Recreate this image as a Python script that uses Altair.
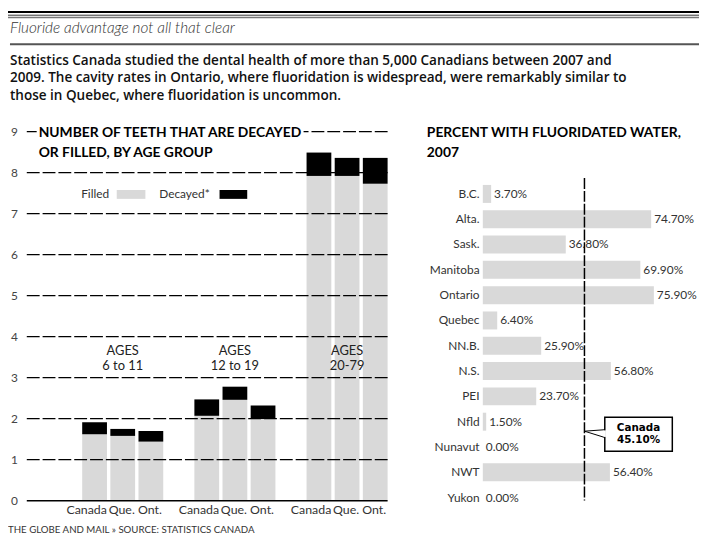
import altair as alt
import pandas as pd

FONT = "Lato"
W, H = 699, 532
GREY = "#d9d9d9"
INK = "#222222"

# ---------------- data ----------------
title_text = "Fluoride advantage not all that clear"
subtitle_lines = [
    "Statistics Canada studied the dental health of more than 5,000 Canadians between 2007 and",
    "2009. The cavity rates in Ontario, where fluoridation is widespread, were remarkably similar to",
    "those in Quebec, where fluoridation is uncommon.",
]
footer_text = "THE GLOBE AND MAIL \u00bb SOURCE: STATISTICS CANADA"

left_title_lines = ["NUMBER OF TEETH THAT ARE DECAYED", "OR FILLED, BY AGE GROUP"]
age_groups = ["6 to 11", "12 to 19", "20-79"]
age_word = "AGES"
regions = ["Canada", "Que.", "Ont."]
filled = [1.62, 1.58, 1.44, 2.07, 2.46, 1.99, 7.92, 7.92, 7.73]
decayed = [0.29, 0.17, 0.26, 0.40, 0.32, 0.33, 0.57, 0.44, 0.63]
y_ticks = [0, 1, 2, 3, 4, 5, 6, 7, 8, 9]
legend_labels = ["Filled", "Decayed*"]

right_title_lines = ["PERCENT WITH FLUORIDATED WATER,", "2007"]
provinces = ["B.C.", "Alta.", "Sask.", "Manitoba", "Ontario", "Quebec", "NN.B.",
             "N.S.", "PEI", "Nfld", "Nunavut", "NWT", "Yukon"]
fluoridated = [3.7, 74.7, 36.8, 69.9, 75.9, 6.4, 25.9, 56.8, 23.7, 1.5, 0.0, 56.4, 0.0]
canada_avg = [45.1]
callout_lines = ["Canada", "45.10%"]

# ---------------- tables ----------------
bars_df = pd.DataFrame({
    "group": [g for g in age_groups for _ in regions],
    "region": regions * len(age_groups),
    "filled": filled,
    "decayed": decayed,
})
ticks_df = pd.DataFrame({"v": y_ticks})
groups_df = pd.DataFrame({"group": age_groups})
prov_df = pd.DataFrame({"prov": provinces, "pct": fluoridated})
canada_df = pd.DataFrame({"c": canada_avg})
one = pd.DataFrame({"k": [0]})


def XG():
    return alt.Scale(type="band", domain=age_groups, range=[19, 384], paddingInner=0.2775,
                     paddingOuter=0.247, align=1)


def XO():
    return alt.Scale(type="band", domain=regions, paddingInner=0.12, paddingOuter=0)


def YL():
    return alt.Scale(domain=[0, 9], range=[495.3, 122])


def YR():
    return alt.Scale(type="band", domain=provinces, range=[172.2, 505], paddingInner=0.29,
                     paddingOuter=0.145)


def XR():
    return alt.Scale(domain=[0, 100], range=[480.3, 708.3])


def hrule(y, x1, x2, color, sw):
    return alt.Chart(one).mark_rule(color=color, strokeWidth=sw).encode(
        x=alt.value(x1), x2=alt.value(x2), y=alt.value(y))


def txt(s, x, y, **kw):
    d = pd.DataFrame({"t": [s]})
    opts = dict(font=FONT, baseline="middle", align="left")
    opts.update(kw)
    return alt.Chart(d).mark_text(**opts).encode(
        x=alt.value(x), y=alt.value(y), text="t:N")


layers = []

# ---------------- header ----------------
layers += [
    hrule(1, 0, W, "black", 2.2),
    hrule(4.2, 0, W, "#333333", 1),
    hrule(6.5, 0, W, "#777777", 1.4),
    txt(title_text, 2, 22, baseline="alphabetic", fontSize=15.5, fontStyle="italic",
        fontWeight=300, color="#333333"),
    hrule(33.5, 2, W, "#555555", 2),
]
for i, line in enumerate(subtitle_lines):
    layers.append(txt(line, 2, 50.5 + i * 17.5, font="Open Sans", fontSize=13.7,
                      fontWeight=600, color="#111111"))

# ---------------- left chart ----------------
xg = alt.X("group:N", scale=XG(), axis=None)
xo = alt.XOffset("region:N", scale=XO())

layers.append(alt.Chart(bars_df).mark_bar(color=GREY).encode(
    x=xg, xOffset=xo,
    y=alt.Y("filled:Q", scale=YL(), axis=None, stack=None), y2=alt.datum(0)))
layers.append(alt.Chart(bars_df).transform_calculate(
    total="datum.filled + datum.decayed").mark_bar(color="black").encode(
    x=xg, xOffset=xo,
    y=alt.Y("filled:Q", scale=YL(), axis=None, stack=None), y2="total:Q"))

layers.append(alt.Chart(ticks_df).transform_filter("datum.v > 0").mark_rule(
    color="black", strokeWidth=1.2, strokeDash=[13, 3]).encode(
    y=alt.Y("v:Q", scale=YL(), axis=None), x=alt.value(19), x2=alt.value(384)))
layers.append(alt.Chart(ticks_df).transform_filter("datum.v == 0").mark_rule(
    color="black", strokeWidth=1.6).encode(
    y=alt.Y("v:Q", scale=YL(), axis=None), x=alt.value(19), x2=alt.value(384)))
layers.append(alt.Chart(ticks_df).mark_text(
    align="right", baseline="middle", font=FONT, fontSize=12, color="#444444").encode(
    y=alt.Y("v:Q", scale=YL(), axis=None), x=alt.value(10), text="v:Q"))

# white patch behind the panel title
layers.append(alt.Chart(one).mark_rect(color="white").encode(
    x=alt.value(29), x2=alt.value(299), y=alt.value(116), y2=alt.value(130)))
for i, line in enumerate(left_title_lines):
    layers.append(txt(line, 31, 123.7 + i * 19.8, fontSize=14, fontWeight="bold", color="black"))

# x labels under bars
layers.append(alt.Chart(bars_df).transform_filter(f"datum.region == '{regions[0]}'").mark_text(
    font=FONT, fontSize=12.5, color="#333333", baseline="middle", dx=-8).encode(
    x=xg, xOffset=xo, y=alt.value(505), text="region:N"))
layers.append(alt.Chart(bars_df).transform_filter(f"datum.region != '{regions[0]}'").mark_text(
    font=FONT, fontSize=12.5, color="#333333", baseline="middle", dx=-1).encode(
    x=xg, xOffset=xo, y=alt.value(505), text="region:N"))

# age group labels
layers.append(alt.Chart(groups_df).mark_text(
    font=FONT, fontSize=13, color=INK, baseline="middle").encode(
    x=xg, y=alt.value(344), text=alt.value(age_word)))
layers.append(alt.Chart(groups_df).mark_text(
    font=FONT, fontSize=13, color=INK, baseline="middle").encode(
    x=xg, y=alt.value(359), text="group:N"))

# legend
layers += [
    txt(legend_labels[0], 74, 185, fontSize=12, color="#333333"),
    alt.Chart(one).mark_rect(color=GREY).encode(
        x=alt.value(110), x2=alt.value(139), y=alt.value(181), y2=alt.value(190)),
    txt(legend_labels[1], 153, 185, fontSize=12, color="#333333"),
    alt.Chart(one).mark_rect(color="black").encode(
        x=alt.value(214), x2=alt.value(242), y=alt.value(181), y2=alt.value(190)),
]

# ---------------- right chart ----------------
yr = alt.Y("prov:N", scale=YR(), axis=None)
layers.append(alt.Chart(prov_df).mark_bar(color=GREY).encode(
    y=yr, x=alt.X("pct:Q", scale=XR(), axis=None), x2=alt.datum(0)))
layers.append(alt.Chart(prov_df).transform_calculate(
    lbl="format(datum.pct, '.2f') + '%'").mark_text(
    align="left", baseline="middle", dx=3, font=FONT, fontSize=12, color="#333333").encode(
    y=yr, x=alt.X("pct:Q", scale=XR(), axis=None), text="lbl:N"))
layers.append(alt.Chart(prov_df).mark_text(
    align="right", baseline="middle", font=FONT, fontSize=12, color="#333333").encode(
    y=yr, x=alt.value(477), text="prov:N"))

layers.append(alt.Chart(canada_df).mark_rule(
    color="black", strokeWidth=1.5, strokeDash=[11, 2]).encode(
    x=alt.X("c:Q", scale=XR(), axis=None), y=alt.value(169), y2=alt.value(495)))

# callout
for yy in (423.5, 431.5):
    layers.append(alt.Chart(canada_df).mark_rule(color="black", strokeWidth=1).encode(
        x=alt.X("c:Q", scale=XR(), axis=None), x2=alt.value(604),
        y=alt.value(425), y2=alt.value(yy)))
layers.append(alt.Chart(one).mark_rect(fill="white", stroke="black", strokeWidth=1.5).encode(
    x=alt.value(603.7), x2=alt.value(672), y=alt.value(411), y2=alt.value(445.3)))
layers.append(alt.Chart(one).mark_rule(color="white", strokeWidth=2.2).encode(
    x=alt.value(603.7), y=alt.value(424.2), y2=alt.value(430.8)))
for i, line in enumerate(callout_lines):
    layers.append(txt(line, 637.8, 422.2 + i * 12, align="center", font="DejaVu Sans",
                      fontSize=10.5, fontWeight="bold", color="black"))

for i, line in enumerate(right_title_lines):
    layers.append(txt(line, 423.7, 123.7 + i * 19.8, fontSize=14, fontWeight="bold", color="black"))

# ---------------- footer ----------------
layers.append(txt(footer_text, 0, 524.7, fontSize=9.8, color="#333333"))

chart = alt.layer(*layers).resolve_scale(
    x="independent", y="independent", xOffset="independent"
).properties(
    width=W, height=H, padding=0,
    autosize=alt.AutoSizeParams(type="none"),
).configure_view(stroke=None)

chart.save("out.html", embed_options={"renderer": "svg", "actions": False})
